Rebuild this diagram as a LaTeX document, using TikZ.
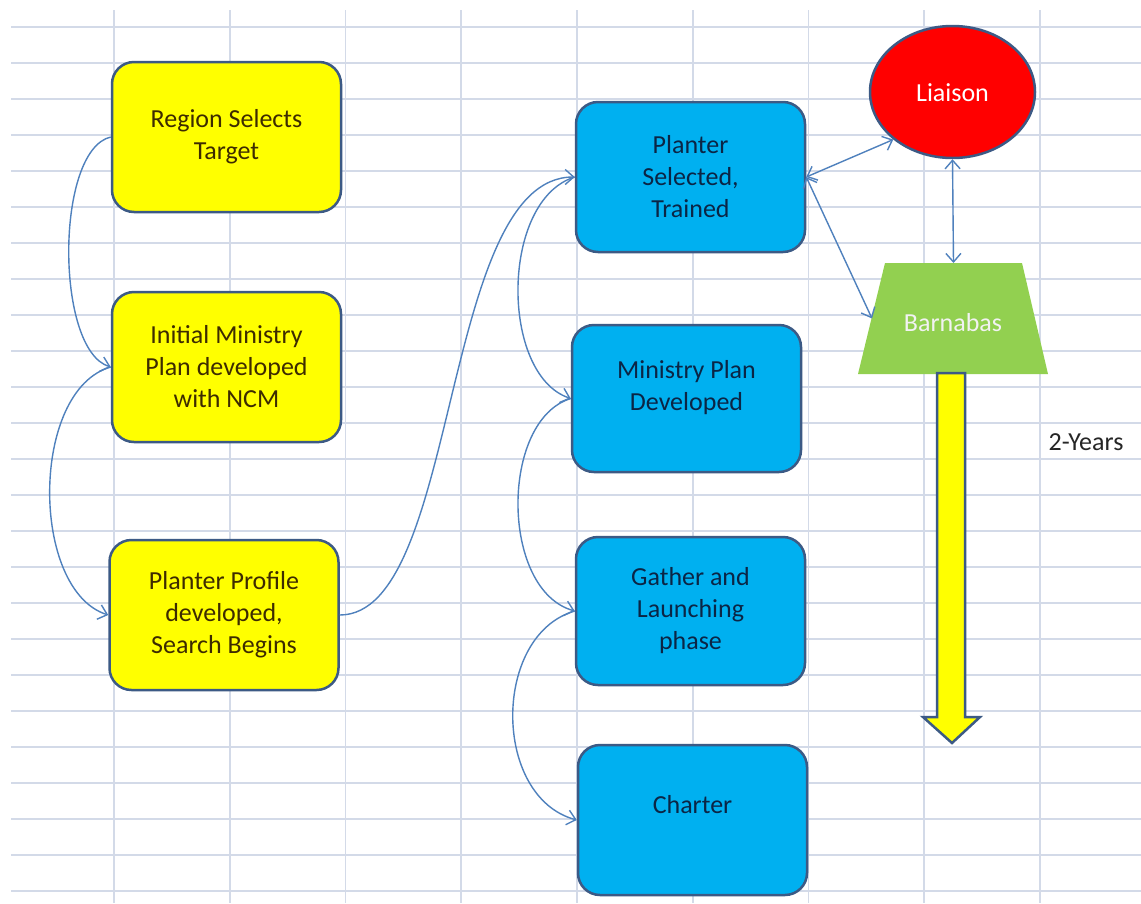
\documentclass[tikz,border=0pt]{standalone}
\usepackage{fontspec}
\setmainfont{Carlito}
\usetikzlibrary{shapes.geometric,arrows.meta}
\definecolor{gridcol}{HTML}{D3DAE8}
\definecolor{boxline}{HTML}{3C5A85}
\definecolor{yfill}{HTML}{FFFF00}
\definecolor{bfill}{HTML}{00B0F0}
\definecolor{conncol}{HTML}{4F81BD}
\definecolor{ytext}{HTML}{3D2B00}
\definecolor{btext}{HTML}{0B2545}
\definecolor{gfill}{HTML}{92D050}
\begin{document}
\begin{tikzpicture}[x=1pt,y=-1pt,
  bigfont/.style={font=\fontsize{26}{32}\selectfont},
  boxshape/.style={rectangle, rounded corners=22pt, draw=boxline, line width=2.5pt,
    minimum width=229pt, minimum height=150pt, inner sep=0pt, bigfont},
  ybox/.style={boxshape, fill=yfill, text=ytext, align=center},
  bbox/.style={boxshape, fill=bfill, text=btext, align=center},
  chbox/.style={boxshape, fill=bfill, text=btext, text height=18pt, text depth=32pt},
  tip/.tip={Straight Barb[length=8.5pt,width=15pt]},
  conn/.style={draw=conncol, line width=1.4pt, -tip},
  dconn/.style={draw=conncol, line width=1.4pt, tip-tip},
  gridln/.style={draw=gridcol, line width=1.8pt}]
\useasboundingbox (0,0) rectangle (1141,903);
\fill[white] (0,0) rectangle (1141,903);
% grid
\foreach \i in {0,...,8} \draw[gridln] ({114+115.75*\i},10) -- ({114+115.75*\i},903);
\foreach \j in {0,...,24} \draw[gridln] (11,{27+36*\j}) -- (1141,{27+36*\j});
% yellow boxes
\node[ybox] (region) at (226.5,137) {Region Selects\\Target};
\node[ybox] (initial) at (226.5,367) {Initial Ministry\\Plan developed\\with NCM};
\node[ybox] (profile) at (224,615) {Planter Profile\\developed,\\Search Begins};
% blue boxes
\node[bbox] (selected) at (690.5,177) {Planter\\Selected,\\Trained};
\node[bbox, minimum height=147pt] (mplan) at (686.5,398.5) {Ministry Plan\\Developed\\[-6pt]\mbox{}};
\node[bbox, minimum height=148pt] (gather) at (690.5,611) {Gather and\\Launching\\phase};
\node[chbox] (charter) at (692.5,820) {Charter};
% liaison
\node[ellipse, draw=boxline, line width=2.5pt, fill=red, minimum width=165pt,
  minimum height=132pt, text=white, bigfont, text height=18pt, text depth=0pt] (liaison) at (952.5,92) {Liaison};
% barnabas trapezoid
\fill[gfill] (885,263) -- (1022,263) -- (1048,374) -- (858,374) -- cycle;
\node[bigfont, text=white!95!black] (barnabas) at (953,323) {Barnabas};
\coordinate (barnW) at (872,318.5);
\coordinate (barnN) at (953.5,263);
% yellow time arrow
\draw[draw=boxline, line width=2.5pt, fill=yfill, line join=miter]
  (937,373) -- (965,373) -- (965,717) -- (980,717) -- (952,743) -- (923,717) -- (937,717) -- cycle;
\node[bigfont, text=black!85] (years) at (1086,442) {2-Years};
% connectors
\draw[conn] (region.west) .. controls (55,150) and (55,350) .. (initial.west);
\draw[conn] (initial.west) .. controls (30,390) and (30,590) .. (profile.west);
\draw[conn] (profile.east) .. controls (460,615) and (440,177) .. (selected.west);
\draw[conn] (selected.west) .. controls (500,200) and (500,375) .. (mplan.west);
\draw[conn] (mplan.west) .. controls (500,420) and (500,590) .. (gather.west);
\draw[conn] (gather.west) .. controls (492,635) and (492,797) .. (charter.west);
\draw[dconn] (selected.east) -- (liaison.south west);
\draw[dconn] (selected.east) -- (barnW);
\draw[dconn] (liaison.south) -- (barnN);
\end{tikzpicture}
\end{document}
